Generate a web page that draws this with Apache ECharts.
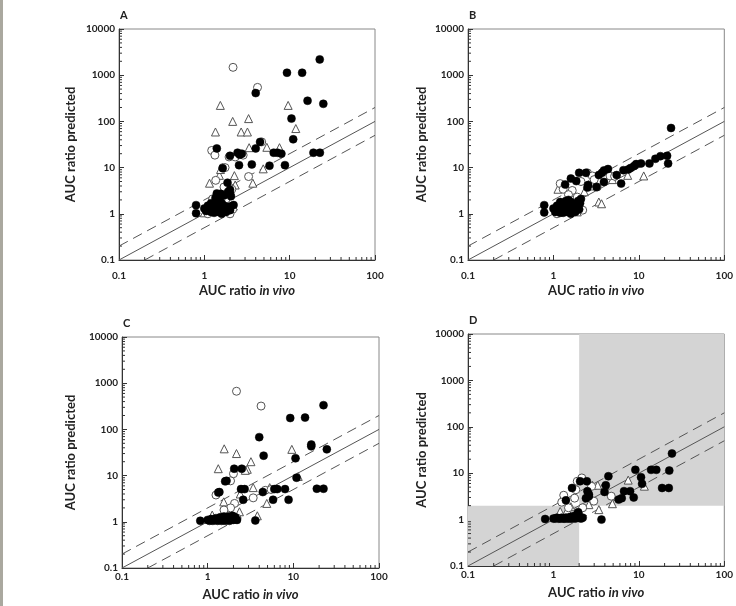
<!DOCTYPE html>
<html><head><meta charset="utf-8">
<script src="https://cdn.jsdelivr.net/npm/echarts@6/dist/echarts.min.js"></script>
<style>html,body{margin:0;padding:0;background:#fff}#c{width:736px;height:606px}</style>
</head><body><div id="c"></div>
<script>
// ---- data (x = AUC ratio in vivo, y = AUC ratio predicted) ----
const panelLabels = ['A','B','C','D'];
const xTicks = [0.1, 1, 10, 100];
const yTicks = [0.1, 1, 10, 100, 1000, 10000];
const refFactors = [1, 2, 0.5];
const shadeLow = [[0.1, 0.1], [2, 2]];
const shadeHigh = [[2, 2], [100, 10000]];

const A_filled = [[22.5,2200],[9.3,1130],[14,1130],[16.2,280],[24.8,240],[4.0,410],[10.5,115],[11,41],[19,21],[22.6,21],
 [1.4,26],[4.5,36],[4.0,26],[2.45,21],[2.6,19],[2.75,20],[2.0,18],[6.5,21],[7.2,21],[8.0,20],
 [2.55,11.3],[3.6,11.7],[5.8,11],[8.8,11.3],[1.64,9.7],[1.87,4.7],[2.0,3.3],[2.0,2.7],[2.05,2.4],[1.4,2.75],[1.55,2.7],[1.7,2.5],
 [0.8,1.54],[0.8,1.03],[1.0,1.3],[1.05,1.15],[1.1,1.5],[1.15,1.2],[1.2,1.1],[1.25,1.35],[1.3,1.6],[1.35,1.2],[1.4,1.8],[1.45,1.1],
 [1.5,1.4],[1.55,1.25],[1.6,1.7],[1.65,1.15],[1.7,1.5],[1.75,1.3],[1.8,1.1],[1.9,1.4],[2.0,1.2],[2.05,1.45],[2.2,1.55],[1.3,1.05],
 [1.5,2.0],[1.6,1.0],[1.45,1.6],[1.2,1.7],[1.35,2.2],[1.9,3.0]];
const A_open = [[2.17,1480],[4.2,545],[1.22,23.5],[1.33,18.6],[1.36,5.3],[3.3,6.4],[1.95,17],[2.85,18.6],[4.7,36],[1.65,10],[1.75,10],
 [2.1,3.4],[2.15,1.25],[1.25,2.1],[1.8,2.1],[2.0,1.0],[1.1,1.0],[1.7,3.8],[1.5,1.9],[2.3,17]];
const A_tri = [[1.54,222],[1.35,59],[2.15,100],[3.3,115],[2.7,59],[3.2,59],[3.35,27],[5.4,27.5],[7.6,27],[9.6,222],[11.8,70],
 [4.9,9.4],[3.7,4.6],[1.15,4.6],[1.5,6.8],[1.55,9.1],[2.25,6.7],[2.3,4.2],[1.8,4.2],[1.3,2.0],[1.0,1.05],[1.7,1.3]];

const B_filled = [[23.8,72],[21.4,18],[22,12.3],[17.9,17.7],[15.6,15.5],[13.3,12.3],[10.6,12.3],[9.3,11.9],[8.8,10.8],[8.0,9.8],
 [7.5,9.1],[6.6,8.8],[6.2,4.5],[5.5,6.9],[4.35,9.3],[3.9,8.7],[3.7,7.7],[3.4,6.9],[3.9,4.9],[3.2,3.8],[2.55,4.2],[2.4,7.7],
 [2.0,7.7],[1.85,5.1],[1.6,5.8],[1.37,4.3],[2.5,3.7],[0.78,1.54],[0.78,1.07],
 [1.0,1.3],[1.05,1.1],[1.1,1.5],[1.15,1.2],[1.2,1.05],[1.25,1.4],[1.3,1.7],[1.35,1.2],[1.4,1.9],[1.45,1.1],[1.5,1.5],[1.55,1.3],
 [1.6,1.8],[1.65,1.15],[1.7,1.6],[1.75,1.35],[1.8,1.1],[1.9,1.5],[2.0,1.25],[2.05,1.7],[2.1,2.1],[1.3,1.05],[1.5,2.0],[1.6,1.0],
 [1.45,1.6],[1.2,1.8],[1.95,1.9],[1.4,1.4]];
const B_open = [[1.2,4.5],[1.3,3.4],[1.66,3.2],[2.5,7.7],[3.25,3.8],[4.6,6.6],[2.85,6.6],[2.1,5.0],[1.9,2.3],[1.5,2.6],[2.2,1.2],
 [1.1,1.0],[3.0,5.5],[5.2,6.5]];
const B_tri = [[1.13,3.4],[1.45,3.5],[3.4,1.8],[3.66,1.65],[7.4,6.8],[11.4,6.6],[4.9,5.5],[2.7,4.0],[1.71,3.0],[1.9,1.1],[2.3,3.0],[1.6,2.9]];

const C_filled = [[22.5,335],[9.2,176],[13.7,180],[16.2,47],[16.2,43],[24.6,37],[10.6,23.7],[10.9,9.0],[18.8,5.2],[22.5,5.2],
 [8.8,3.0],[8.0,5.1],[6.5,5.1],[6.0,5.1],[5.8,3.0],[4.4,4.4],[4.0,68],[4.5,27],[3.6,1.07],[1.37,4.4],[1.33,4.3],[1.66,7.7],
 [1.6,7.5],[2.04,14.1],[2.5,14.1],[2.45,5.1],[2.7,5.1],[2.6,3.0],[0.82,1.05],
 [1.0,1.1],[1.05,1.05],[1.1,1.15],[1.15,1.05],[1.2,1.1],[1.25,1.2],[1.3,1.05],[1.35,1.1],[1.4,1.25],[1.45,1.05],[1.5,1.15],
 [1.55,1.3],[1.6,1.05],[1.65,1.2],[1.7,1.1],[1.75,1.3],[1.8,1.05],[1.9,1.2],[1.95,1.35],[2.0,1.1],[2.1,1.25],[2.2,1.1]];
const C_open = [[2.17,670],[4.2,320],[1.25,3.8],[2.0,11],[1.85,7.7],[3.4,3.3],[4.7,4.8],[2.06,2.5],[1.85,2.0],[1.55,1.8],[2.2,1.2],[5.5,5.0]];
const C_tri = [[1.56,38],[2.17,30],[9.6,37],[1.33,14.1],[3.2,20],[2.9,13.7],[2.75,13],[11.4,9.6],[3.4,5.5],[4.9,2.5],[3.8,1.35],
 [2.35,1.65],[1.54,2.7],[1.13,1.4],[5.3,5.5],[2.4,4.0]];

const D_filled = [[24.4,26.6],[22.7,11.4],[13.9,11.8],[16.0,11.8],[9.1,11.8],[10.6,8.2],[10.9,5.9],[18.7,4.8],[22.4,4.8],[8.7,3.0],
 [7.9,4.1],[6.7,4.1],[6.3,2.9],[5.8,2.7],[4.4,8.6],[3.96,3.95],[4.1,5.5],[3.65,1.0],[2.5,4.1],[2.6,3.5],[2.6,3.2],[2.4,2.9],
 [2.46,6.7],[2.05,6.7],[1.65,4.8],[1.4,2.6],[0.8,1.03],[1.95,1.44],
 [1.0,1.05],[1.05,1.05],[1.1,1.1],[1.15,1.05],[1.2,1.05],[1.25,1.1],[1.3,1.05],[1.35,1.05],[1.4,1.1],[1.45,1.05],[1.5,1.1],
 [1.55,1.05],[1.6,1.15],[1.65,1.05],[1.7,1.1],[1.75,1.2],[1.8,1.05],[1.9,1.3],[2.0,1.1],[2.1,1.05],[2.2,1.1]];
const D_open = [[2.15,7.9],[1.9,6.7],[1.32,3.35],[1.25,2.37],[1.83,4.4],[1.77,2.9],[2.97,2.5],[4.75,3.2],[4.0,5.0],[2.8,5.2],[2.2,1.8],[1.5,1.8]];
const D_tri = [[2.86,5.5],[3.3,5.5],[3.4,1.64],[4.9,2.2],[7.5,7.1],[11.6,5.25],[2.6,2.1],[1.2,1.5],[1.6,1.9],[2.1,1.3],[1.45,1.6]];

const panels = [
  {filled: A_filled, open: A_open, tri: A_tri},
  {filled: B_filled, open: B_open, tri: B_tri},
  {filled: C_filled, open: C_open, tri: C_tri},
  {filled: D_filled, open: D_open, tri: D_tri, shade: true}
];

// ---- layout ----
const grids = [
  {left:119, top:29, width:256, height:231, xMargin:11, xGap:24, yGap:42},
  {left:468, top:29, width:258, height:231, xMargin:11, xGap:24, yGap:40},
  {left:122, top:337, width:257, height:231, xMargin:4, xGap:20, yGap:45},
  {left:468, top:334, width:259, height:232, xMargin:4, xGap:20, yGap:40}
];
const FONT = 'Lato';
const xMin = xTicks[0], xMax = xTicks[xTicks.length-1];
const yMin = yTicks[0], yMax = yTicks[yTicks.length-1];
const fmt = v => String(+(+v).toPrecision(6));

function minorVals(lo, hi){
  const out=[];
  for(let d=lo; d<hi; d*=10){ for(let m=2;m<=9;m++){ out.push(+(m*d).toPrecision(6)); } }
  return out;
}
const minorData = minorVals(xMin,xMax).map(v=>[v,yMin,0]).concat(minorVals(yMin,yMax).map(v=>[xMin,v,1]));

const option = {
  animation:false,
  backgroundColor:'#fff',
  grid: grids.map(g=>({left:g.left, top:g.top, width:g.width, height:g.height, show:true, borderColor:'#888', borderWidth:1, containLabel:false})),
  xAxis: grids.map((g,i)=>({
    type:'log', logBase:10, min:xMin, max:xMax, gridIndex:i,
    name:'{b|AUC ratio }{i|in vivo}', nameLocation:'middle', nameGap:g.xGap,
    nameTextStyle:{rich:{b:{fontFamily:FONT,fontWeight:'bold',fontSize:13,color:'#222'},i:{fontFamily:FONT,fontWeight:'bold',fontStyle:'italic',fontSize:13,color:'#222'}}},
    axisLine:{show:true,lineStyle:{color:'#333',width:1}},
    axisTick:{show:true,inside:true,length:5,lineStyle:{color:'#333'}},
    axisLabel:{fontFamily:FONT,fontWeight:'bold',fontSize:10,color:'#222',margin:g.xMargin,formatter:fmt},
    splitLine:{show:false}
  })),
  yAxis: grids.map((g,i)=>({
    type:'log', logBase:10, min:yMin, max:yMax, gridIndex:i,
    name:'AUC ratio predicted', nameLocation:'middle', nameGap:g.yGap,
    nameTextStyle:{fontFamily:FONT,fontWeight:'bold',fontSize:13,color:'#222'},
    axisLine:{show:true,lineStyle:{color:'#333',width:1}},
    axisTick:{show:true,inside:true,length:5,lineStyle:{color:'#333'}},
    axisLabel:{fontFamily:FONT,fontWeight:'bold',fontSize:10,color:'#222',margin:4,formatter:fmt},
    splitLine:{show:false}
  })),
  graphic: [
    {type:'rect', left:0, top:0, shape:{width:3,height:606}, style:{fill:'#aaa89f'}},
    ...grids.map((g,i)=>({type:'text', left:g.left+1, top:g.top-19, style:{text:panelLabels[i], fontFamily:FONT, fontWeight:'bold', fontSize:11, fill:'#222'}}))
  ],
  series: []
};

panels.forEach((p,i)=>{
  if(p.shade){
    option.series.push({type:'line', xAxisIndex:i, yAxisIndex:i, data:[], z:0, silent:true,
      markArea:{silent:true, itemStyle:{color:'#d4d4d4', opacity:1},
        data:[[{coord:shadeLow[0]},{coord:shadeLow[1]}],[{coord:shadeHigh[0]},{coord:shadeHigh[1]}]]}});
  }
  refFactors.forEach(f=>{
    const x0 = Math.max(xMin, yMin/f), x1 = Math.min(xMax, yMax/f);
    option.series.push({type:'line', xAxisIndex:i, yAxisIndex:i, z:1, silent:true, symbol:'none',
      data:[[x0, x0*f],[x1, x1*f]],
      lineStyle:{color:'#555', width:1, type: f===1?'solid':[10,6]}});
  });
  option.series.push({type:'custom', xAxisIndex:i, yAxisIndex:i, z:5, silent:true, clip:false,
    data: minorData,
    renderItem:(params, api)=>{
      const flag = api.value(2);
      if(flag===0){
        const pt = api.coord([api.value(0), yMin]);
        return {type:'line', shape:{x1:pt[0],y1:pt[1],x2:pt[0],y2:pt[1]-3}, style:{stroke:'#333',lineWidth:1}};
      } else {
        const pt = api.coord([xMin, api.value(1)]);
        return {type:'line', shape:{x1:pt[0],y1:pt[1],x2:pt[0]+3,y2:pt[1]}, style:{stroke:'#333',lineWidth:1}};
      }
    }});
  option.series.push({type:'scatter', xAxisIndex:i, yAxisIndex:i, z:2, symbol:'triangle', symbolSize:8,
    data:p.tri, itemStyle:{color:'#fff', borderColor:'#555', borderWidth:1, opacity:1}});
  option.series.push({type:'scatter', xAxisIndex:i, yAxisIndex:i, z:3, symbol:'circle', symbolSize:8,
    data:p.open, itemStyle:{color:'#fff', borderColor:'#555', borderWidth:1, opacity:1}});
  option.series.push({type:'scatter', xAxisIndex:i, yAxisIndex:i, z:4, symbol:'circle', symbolSize:8,
    data:p.filled, itemStyle:{color:'#000', borderColor:'#000', borderWidth:0.5, opacity:1}});
});

const chart = echarts.init(document.getElementById('c'), null, {renderer:'canvas'});
chart.setOption(option);
</script>
</body></html>
